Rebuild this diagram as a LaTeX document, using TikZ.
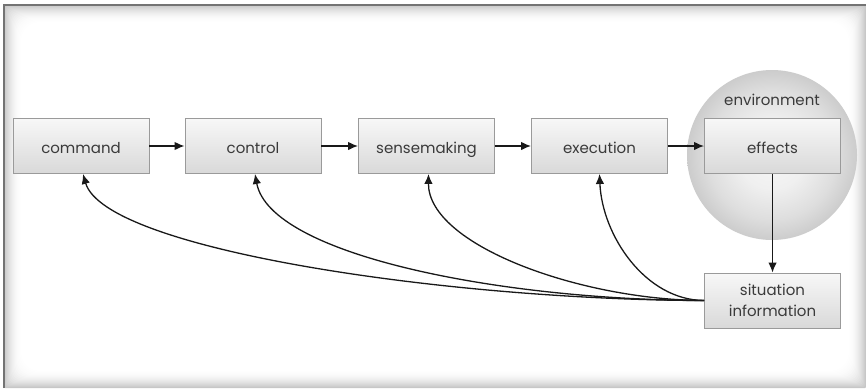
\documentclass[tikz,border=0pt]{standalone}
\usepackage{fontspec}
\setmainfont{Poppins}
\usetikzlibrary{arrows.meta}
\definecolor{txt}{HTML}{3A3A3A}
\definecolor{boxline}{HTML}{9A9A9A}
\pgfdeclareradialshading{envshade}{\pgfpoint{0bp}{0bp}}{%
  color(0bp)=(black!3); color(10bp)=(black!6); color(19bp)=(black!13);
  color(25bp)=(black!20); color(50bp)=(black!20)}
\begin{document}
\begin{tikzpicture}[x=1pt,y=-1pt,
  boxbase/.style={draw=boxline, line width=0.9pt, top color=black!3, bottom color=black!15,
    minimum width=136pt, minimum height=55pt, inner sep=0pt, text=txt, align=center},
  box/.style={boxbase, font=\fontsize{15}{18}\selectfont, text height=14pt, text depth=0pt},
  box2/.style={boxbase, font=\fontsize{15}{21}\selectfont},
  lbl/.style={font=\fontsize{15}{18}\selectfont, text=txt, inner sep=0pt},
  arr/.style={-{Latex[length=10pt,width=8.5pt]}, line width=1.3pt, draw=black!90},
  fb/.style={arr, line width=1.3pt}]
\useasboundingbox (0,0) rectangle (866,388);
\fill[white] (0,0) rectangle (866,388);
% inner glow of frame
\foreach \i in {0,...,17}{
  \pgfmathsetmacro\c{22*(1-\i/18)^2}
  \pgfmathsetmacro\r{\i+1}
  \fill[black!\c, rounded corners=\r pt] (4+\i,5+\i) rectangle (866-\i,388-\i);
}
\draw[black!55, line width=1.5pt] (4,388) -- (4,5) -- (866,5);
% environment circle
\shade[shading=envshade] (772,155) circle[radius=85pt];
\node[lbl] (env) at (772,100) {environment};
% boxes
\node[box] (command) at (81,146) {command};
\node[box] (control) at (253,146) {control};
\node[box] (sense) at (426.5,146) {sensemaking};
\node[box] (exec) at (599.5,146) {execution};
\node[box] (effects) at (772.5,146) {effects};
\node[box2] (sit) at (772.5,300.5) {situation\\information};
% forward arrows
\draw[arr] (command) -- (control);
\draw[arr] (control) -- (sense);
\draw[arr] (sense) -- (exec);
\draw[arr] (exec) -- (effects);
\draw[arr] (effects) -- (sit);
% feedback curves
\draw[fb] (sit.west) .. controls (450,300) and (105,250) .. ([xshift=2pt]command.south);
\draw[fb] (sit.west) .. controls (500,300) and (270,255) .. ([xshift=2pt]control.south);
\draw[fb] (sit.west) .. controls (580,300) and (428,245) .. ([xshift=2pt]sense.south);
\draw[fb] (sit.west) .. controls (645,300) and (602,235) .. (exec.south);
\end{tikzpicture}
\end{document}
